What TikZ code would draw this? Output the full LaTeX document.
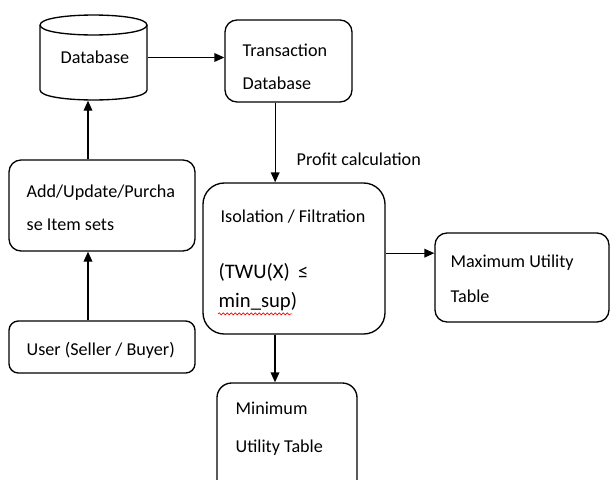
\documentclass[tikz,border=0pt]{standalone}
\usepackage{fontspec}
\setmainfont{Carlito}
\usetikzlibrary{arrows.meta,decorations.pathmorphing}
\begin{document}
\begin{tikzpicture}[x=0.75pt,y=-0.75pt,
  line width=1pt,
  box/.style={draw, rectangle, inner sep=0pt},
  lbl/.style={anchor=west, inner sep=0pt, font=\fontsize{13.6pt}{16pt}\selectfont},
  biglbl/.style={anchor=west, inner sep=0pt, font=\fontsize{15.5pt}{18pt}\selectfont},
  arr/.style={-{Triangle[length=7.5pt,width=6.5pt]}}]
\useasboundingbox (0,0) rectangle (610,479);
\clip (0,0) rectangle (610,479);

% database cylinder
\draw (40,25) -- (40,90) .. controls (40,103.3) and (147,103.3) .. (147,90) -- (147,25);
\draw (40,25) .. controls (40,11.7) and (147,11.7) .. (147,25)
              .. controls (147,38.3) and (40,38.3) .. (40,25);
\node[inner sep=0pt, minimum width=80.25pt, minimum height=63.75pt] (db) at (93.5,57.5) {};
\node[lbl] (dbt) at (60,57) {Database};

% boxes
\node[box, rounded corners=9pt, minimum width=95.25pt, minimum height=61.5pt] (trans) at (288.5,61) {};
\node[box, rounded corners=16pt, minimum width=136.5pt, minimum height=113.25pt] (iso) at (294,258.5) {};
\node[box, rounded corners=9pt, minimum width=130.5pt, minimum height=66.75pt] (maxt) at (522,277.5) {};
\node[box, rounded corners=11pt, minimum width=105pt, minimum height=84pt] (mint) at (287,439) {};
\node[box, rounded corners=9pt, minimum width=139.5pt, minimum height=68.25pt] (add) at (102,205.5) {};
\node[box, rounded corners=7pt, minimum width=139.5pt, minimum height=39pt] (user) at (102,347) {};

% texts
\node[lbl] (t1) at (242,50) {Transaction};
\node[lbl] (t2) at (242,83) {Database};
\node[lbl] (p1) at (296,159) {Profit calculation};
\node[lbl] (i1) at (220,217) {Isolation / Filtration};
\node[biglbl] (i2) at (218,272) {(TWU(X) \,≤};
\node[biglbl] (i3) at (218,302) {min\_sup)};
\node[lbl] (m1) at (450,263) {Maximum Utility};
\node[lbl] (m2) at (450,296) {Table};
\node[lbl] (n1) at (235,408) {Minimum};
\node[lbl] (n2) at (235,448) {Utility Table};
\node[lbl] (a1) at (26,193) {Add/Update/Purcha};
\node[lbl] (a2) at (26,225) {se Item sets};
\node[lbl] (u1) at (26,350) {User (Seller / Buyer)};

% spelling squiggle under min_sup
\draw[red, line width=0.5pt, decorate, decoration={snake, amplitude=0.8pt, segment length=3pt}]
  ([yshift=-1.5pt]i3.south west) -- ([xshift=-4pt,yshift=-1.5pt]i3.south east);

% connectors
\draw[arr] (db.east) -- (db.east -| trans.west);
\draw[arr] ([xshift=-10.5pt]add.north) -- ([xshift=-10.5pt]add.north |- db.south);
\draw[arr] ([xshift=-10.5pt]user.north) -- ([xshift=-10.5pt]add.south);
\draw[arr] ([xshift=-10pt]trans.south) -- ([xshift=-10pt]trans.south |- iso.north);
\draw[arr] ([yshift=4pt]iso.east) -- ([yshift=4pt]iso.east -| maxt.west);
\draw[arr] ([xshift=-14.25pt]iso.south) -- ([xshift=-14.25pt]iso.south |- mint.north);
\end{tikzpicture}
\end{document}
